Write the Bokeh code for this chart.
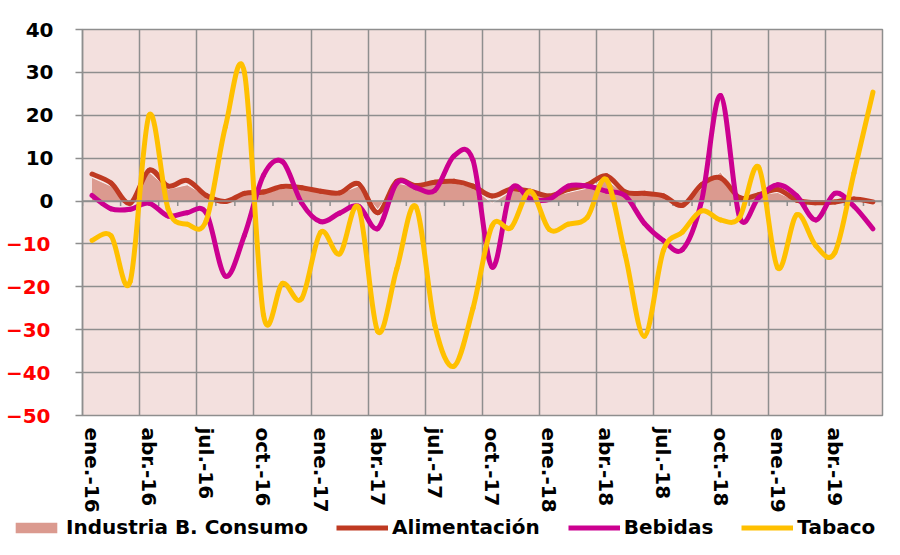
from bokeh.plotting import figure
from bokeh.layouts import column
from bokeh.models import (Range1d, FixedTicker, LinearAxis, Legend, LegendItem,
                          ColumnDataSource, Span)
from bokeh.embed import file_html
from bokeh.resources import INLINE

# ---------------- data ----------------
mes = ["ene.", "feb.", "mar.", "abr.", "may.", "jun.", "jul.", "ago.", "sep.", "oct.", "nov.", "dic."]
months = [f"{mes[m]}-{yy}" for yy in (16, 17, 18, 19) for m in range(12)][:42]

industria = [5.5, 3.5, -0.3, 6.8, 2.8, 3.8, 1.2, -0.8, 1.5, 1.8, 3.0, 2.8, 2.3, 1.8, 3.5,
             -2.0, 4.2, 3.3, 4.0, 4.3, 3.2, -0.5, 2.3, 2.2, 0.9, 2.0, 3.0, 5.0, 1.5, 1.6,
             0.8, -1.0, 3.0, 6.8, 0.5, 1.5, 2.0, 0.0, -0.4, -0.3, 0.2, -0.8]
alimentacion = [6.3, 4.2, -0.5, 7.2, 3.5, 4.8, 1.3, -0.1, 1.8, 2.1, 3.4, 3.1, 2.3, 1.9, 4.0,
                -2.7, 4.6, 3.6, 4.4, 4.6, 3.5, 1.2, 2.8, 2.3, 1.2, 2.7, 3.8, 5.9, 2.1, 1.8,
                1.2, -1.0, 3.8, 5.4, 0.8, 1.5, 2.7, 0.2, -0.4, -0.2, 0.5, -0.2]
bebidas = [1.3, -1.8, -1.9, -0.5, -3.5, -2.7, -2.8, -17.5, -8.0, 6.0, 9.2, -0.4, -4.8, -2.8,
           -1.2, -6.4, 4.2, 3.1, 2.5, 10.5, 9.5, -15.4, 2.7, 0.5, 0.4, 3.5, 3.5, 2.3, 1.2,
           -5.2, -9.2, -11.3, 0.0, 24.6, -3.8, 0.8, 3.8, 1.2, -4.4, 1.8, -1.2, -6.5]
tabaco = [-9.2, -8.1, -18.8, 20.0, -1.9, -5.4, -4.5, 17.3, 30.0, -26.5, -19.2, -22.8, -7.3,
          -12.3, -1.6, -30.4, -15.8, -1.3, -29.0, -38.5, -25.0, -5.8, -6.2, 2.3, -6.6, -5.4,
          -3.8, 5.0, -12.7, -31.5, -11.5, -7.2, -2.3, -4.4, -3.8, 7.9, -15.6, -3.2, -10.4,
          -12.0, 6.5, 25.4]

y_ticks = [-50, -40, -30, -20, -10, 0, 10, 20, 30, 40]
label_idx = list(range(0, 42, 3))

C_AREA = "#DB9A8F"
C_ALIM = "#BF3A22"
C_BEB = "#CC0090"
C_TAB = "#FFC000"
C_GRID = "#8E8E8E"
FONT = "DejaVu Sans"
FS = "20px"
W = 884
FRAME_H = 389
Y0, Y1 = -50, 40

x = list(range(len(months)))
src = ColumnDataSource(dict(x=x, ind=industria, alim=alimentacion, beb=bebidas, tab=tabaco))


def smooth_cols(xs, ys):
    """Bezier control points of an Excel-style smoothed line through the points."""
    n = len(xs)
    d = dict(x0=[], y0=[], x1=[], y1=[], cx0=[], cy0=[], cx1=[], cy1=[])
    for i in range(n - 1):
        xm, ym = (xs[i - 1], ys[i - 1]) if i > 0 else (xs[i], ys[i])
        xp, yp = (xs[i + 2], ys[i + 2]) if i + 2 < n else (xs[i + 1], ys[i + 1])
        d["x0"].append(xs[i]); d["y0"].append(ys[i])
        d["x1"].append(xs[i + 1]); d["y1"].append(ys[i + 1])
        d["cx0"].append(xs[i] + (xs[i + 1] - xm) / 6.0)
        d["cy0"].append(ys[i] + (ys[i + 1] - ym) / 6.0)
        d["cx1"].append(xs[i + 1] - (xp - xs[i]) / 6.0)
        d["cy1"].append(ys[i + 1] - (yp - ys[i]) / 6.0)
    return ColumnDataSource(d)


p = figure(width=W, height=515, output_backend="svg", toolbar_location=None,
           x_range=Range1d(-0.5, len(months) - 0.5), y_range=Range1d(Y0, Y1),
           min_border_left=82, min_border_right=2, min_border_top=29, min_border_bottom=97,
           background_fill_color="#F3E0DE", border_fill_color="white",
           outline_line_color=C_GRID, outline_line_width=1.5)
p.xaxis.visible = False
p.yaxis.visible = False

# grid
p.xgrid.ticker = FixedTicker(ticks=[-0.5 + 3 * k for k in range(15)])
p.ygrid.ticker = FixedTicker(ticks=y_ticks)
for g in (p.xgrid, p.ygrid):
    g.grid_line_color = C_GRID
    g.grid_line_width = 1.5

# series
p.varea(x="x", y1=0, y2="ind", source=src, fill_color=C_AREA)
p.line(x="x", y="ind", source=src, line_color="white", line_width=1, line_alpha=0.8)

# zero line with a small tick at every month boundary
bounds = [i - 0.5 for i in range(len(months) + 1)]
tick_len = 5 * (Y1 - Y0) / FRAME_H
p.add_layout(Span(location=0, dimension="width", line_color=C_GRID, line_width=1.5))
p.segment(x0=bounds, y0=[0] * len(bounds), x1=bounds, y1=[-tick_len] * len(bounds),
          line_color=C_GRID, line_width=1.5)

for vals, col in ((alimentacion, C_ALIM), (bebidas, C_BEB), (tabaco, C_TAB)):
    p.bezier(x0="x0", y0="y0", x1="x1", y1="y1", cx0="cx0", cy0="cy0", cx1="cx1", cy1="cy1",
             source=smooth_cols(x, vals), line_color=col, line_width=5, line_cap="round")

# x axis: labels at bottom
xa = LinearAxis(ticker=FixedTicker(ticks=label_idx),
                major_label_overrides={i: months[i] for i in label_idx})
xa.axis_line_color = None
xa.major_tick_line_color = None
xa.minor_tick_line_color = None
xa.major_tick_out = 0
xa.major_tick_in = 0
xa.major_label_standoff = 12
xa.major_label_orientation = "vertical"
xa.major_label_text_font = FONT
xa.major_label_text_font_style = "bold"
xa.major_label_text_font_size = FS
xa.major_label_text_color = "black"
p.add_layout(xa, "below")

# y axis (inner): line, ticks and black labels 0..40
ya = LinearAxis(ticker=FixedTicker(ticks=y_ticks),
                major_label_overrides={t: "" for t in y_ticks if t < 0})
ya.axis_line_color = C_GRID
ya.axis_line_width = 1.5
ya.major_tick_line_color = C_GRID
ya.major_tick_line_width = 1.5
ya.major_tick_out = 7
ya.major_tick_in = 0
ya.minor_tick_line_color = None
ya.major_label_standoff = 22
ya.major_label_text_font = FONT
ya.major_label_text_font_style = "bold"
ya.major_label_text_font_size = FS
ya.major_label_text_color = "black"
p.add_layout(ya, "left")

# y axis (outer): red labels for negative values, pulled back under the inner labels
yr = LinearAxis(ticker=FixedTicker(ticks=[t for t in y_ticks if t < 0]))
yr.axis_line_color = None
yr.major_tick_line_color = None
yr.minor_tick_line_color = None
yr.major_tick_out = 0
yr.major_tick_in = 0
yr.major_label_standoff = -28
yr.major_label_text_font = FONT
yr.major_label_text_font_style = "bold"
yr.major_label_text_font_size = FS
yr.major_label_text_color = "#FF0000"
p.add_layout(yr, "left")

# legend strip below the chart (its keys use the same data, kept out of view)
lf = figure(width=W, height=24, output_backend="svg", toolbar_location=None,
            x_axis_type=None, y_axis_type=None,
            x_range=Range1d(-0.5, len(months) - 0.5), y_range=Range1d(1000, 1001), min_border=0,
            outline_line_color=None, background_fill_color="white", border_fill_color="white")
if "frame_align" in lf.properties():
    lf.frame_align = False
lf.grid.visible = False
k_area = lf.varea(x="x", y1=0, y2="ind", source=src, fill_color=C_AREA)
k_alim = lf.line(x="x", y="alim", source=src, line_color=C_ALIM, line_width=5)
k_beb = lf.line(x="x", y="beb", source=src, line_color=C_BEB, line_width=5)
k_tab = lf.line(x="x", y="tab", source=src, line_color=C_TAB, line_width=5)

legend = Legend(items=[
    LegendItem(label="Industria B. Consumo", renderers=[k_area]),
    LegendItem(label="Alimentación", renderers=[k_alim]),
    LegendItem(label="Bebidas", renderers=[k_beb]),
    LegendItem(label="Tabaco", renderers=[k_tab]),
], orientation="horizontal", location=(10, 0))
legend.glyph_width = 52
legend.glyph_height = 13
legend.label_standoff = 4
legend.spacing = 28
legend.padding = 0
legend.margin = 0
legend.border_line_color = None
legend.background_fill_alpha = 0
legend.label_text_font = FONT
legend.label_text_font_style = "bold"
legend.label_text_font_size = FS
legend.label_text_color = "black"
lf.add_layout(legend)

layout = column(p, lf, spacing=0)
open("out.html", "w").write(file_html(layout, INLINE))
